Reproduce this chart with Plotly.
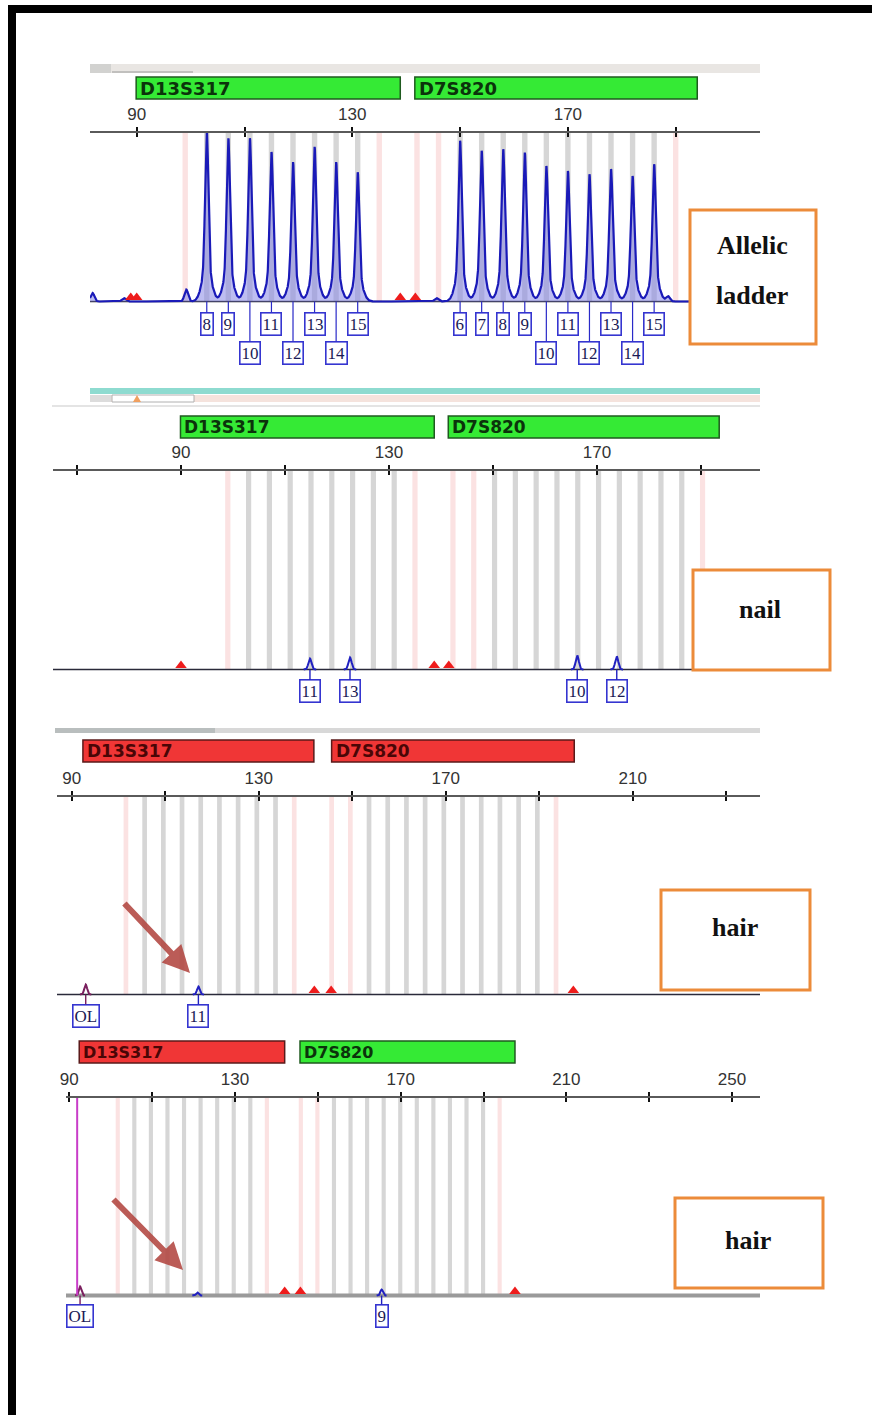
import numpy as np
import plotly.graph_objects as go

W, H = 872, 1415

# ------------------------------------------------------------------ data
LOCI = ["D13S317", "D7S820"]
D13_ALLELES = [8, 9, 10, 11, 12, 13, 14, 15]
D13_BP = [103.0, 107.0, 111.0, 115.0, 119.0, 123.0, 127.0, 131.0]
D13_LADDER_H = [1.00, 0.96, 0.96, 0.88, 0.82, 0.91, 0.82, 0.76]
D7_ALLELES = [6, 7, 8, 9, 10, 11, 12, 13, 14, 15]
D7_BP = [150.0, 154.0, 158.0, 162.0, 166.0, 170.0, 174.0, 178.0, 182.0, 186.0]
D7_LADDER_H = [0.945, 0.886, 0.896, 0.876, 0.797, 0.768, 0.748, 0.778, 0.738, 0.807]
D13_VIRTUAL_BP = [99.0, 135.0]
D7_VIRTUAL_BP = [142.0, 146.0, 190.0]
LADDER_NOISE_BP = [81.8, 87.6, 99.2, 145.6, 188.6]
LADDER_NOISE_H = [0.05, 0.02, 0.07, 0.02, 0.03]

PANEL_NAMES = [["Allelic", "ladder"], ["nail"], ["hair"], ["hair"]]
LOCUS_START = {1: [89.9, 141.6], 2: [89.9, 141.4], 3: [92.4, 145.6], 4: [92.4, 145.7]}
LOCUS_END = {1: [138.9, 194.0], 2: [138.7, 193.5], 3: [141.8, 197.5], 4: [142.0, 197.6]}
LOCUS_PASS = {1: [True, True], 2: [True, True], 3: [False, False], 4: [False, True]}
BIN_SHIFT = {1: [0.0, 0.0], 2: [0.0, 0.3], 3: [2.6, 3.6], 4: [2.7, 3.9]}
EDGE_MARK_BP = {1: [88.9, 90.0, 138.9, 141.7], 2: [90.0, 138.7, 141.5],
                3: [141.9, 145.5, 197.3], 4: [142.0, 145.8, 197.6]}

SAMPLE_PEAK_BP = {2: [114.8, 122.5, 166.2, 173.8], 3: [93.0, 117.1], 4: [92.6, 120.9, 165.4]}
SAMPLE_PEAK_H = {2: [0.055, 0.06, 0.07, 0.065], 3: [0.05, 0.04], 4: [0.045, 0.015, 0.03]}
SAMPLE_PEAK_LABEL = {2: ["11", "13", "10", "12"], 3: ["OL", "11"], 4: ["OL", "", "9"]}
SAMPLE_PEAK_DYE = {2: ["blue"] * 4, 3: ["purple", "blue"], 4: ["purple", "blue", "blue"]}
OFFSCALE_BP = 91.9  # panel 4 vertical marker
TICK_VALUES = list(range(50, 270, 20))

# ------------------------------------------------------------------ layout geometry (pixels)
GEOM = {
    1: dict(top=55, bottom=372, axis=131.5, base=301.5, left=90, right=760, t90=136.7, ppb=5.39),
    2: dict(top=380, bottom=712, axis=469.5, base=669.5, left=53, right=760, t90=181.0, ppb=5.2),
    3: dict(top=722, bottom=1032, axis=795.5, base=994.5, left=57, right=760, t90=71.7, ppb=4.675),
    4: dict(top=1034, bottom=1340, axis=1096.5, base=1295.5, left=66, right=760, t90=69.3, ppb=4.142),
}
LOCUS_BAR_PX = {1: (77, 99), 2: (416, 438), 3: (740, 762), 4: (1041, 1063)}
LOCUS_FONT = {1: 18, 2: 17, 3: 17, 4: 16}
LABEL_AY = {1: (22, 51), 2: (21.5, 21.5), 3: (21, 21), 4: (20, 20)}
NAME_BOX = {1: (690, 210, 816, 344), 2: (693, 570, 830, 670), 3: (661, 890, 810, 990), 4: (675, 1198, 823, 1288)}
NAME_TEXT = {1: [(752, 246), (752, 295)], 2: [(760, 610)], 3: [(735, 927)], 4: [(748, 1240)]}
ARROWS = {3: (190, 973, 123, 902), 4: (183, 1270, 112, 1198)}

DYE_COLOR = {"blue": "#2020c0", "purple": "#7a1f5e"}


def rng(p):
    g = GEOM[p]
    return [90 + (g["left"] - g["t90"]) / g["ppb"], 90 + (g["right"] - g["t90"]) / g["ppb"]]


def yv(p, ypx):
    g = GEOM[p]
    return (g["base"] - ypx) / (g["base"] - g["axis"])


def bpx(p, xpx):
    g = GEOM[p]
    return 90 + (xpx - g["t90"]) / g["ppb"]


def refs(p):
    return ("x" if p == 1 else f"x{p}", "y" if p == 1 else f"y{p}")


def px(x):
    return x / W


def py(y):
    return 1 - y / H


fig = go.Figure()
layout = dict(width=W, height=H, margin=dict(l=0, r=0, t=0, b=0, pad=0, autoexpand=False),
              paper_bgcolor="white", plot_bgcolor="rgba(0,0,0,0)",
              showlegend=False, barmode="overlay")
shapes, annos = [], []

LABEL_FONT = dict(family="Liberation Serif", size=17, color="#1a1a55")

for p in range(1, 5):
    g = GEOM[p]
    r = rng(p)
    xr, yr = refs(p)
    ticks = [t for t in TICK_VALUES if r[0] <= t <= r[1]]
    ttext = [str(t) if (t - 90) % 40 == 0 else "" for t in ticks]
    pos = py(g["axis"])
    dom = [px(g["left"]), px(g["right"])]
    xkey = "xaxis" if p == 1 else f"xaxis{p}"
    ykey = "yaxis" if p == 1 else f"yaxis{p}"
    layout[xkey] = dict(domain=dom, range=r, anchor="free", position=pos, side="top",
                        showline=True, linecolor="#5a5a5a", linewidth=2,
                        ticks="outside", ticklen=4, tickwidth=1.5, tickcolor="#111",
                        tickvals=ticks, ticktext=ttext, automargin=False,
                        tickfont=dict(family="Liberation Sans", size=17, color="#333"),
                        showgrid=False, zeroline=False, fixedrange=True)
    layout[f"xaxis{p + 4}"] = dict(range=r, anchor="free", position=pos, side="top",
                                   overlaying=xr, showline=False, ticks="inside", ticklen=4,
                                   tickwidth=1.5, tickcolor="#111", tickvals=ticks,
                                   showticklabels=False, showgrid=False, zeroline=False,
                                   automargin=False, fixedrange=True)
    layout[ykey] = dict(domain=[py(g["bottom"]), py(g["top"])],
                        range=[yv(p, g["bottom"]), yv(p, g["top"])],
                        anchor=xr, visible=False, automargin=False, fixedrange=True)
    fig.add_trace(go.Scatter(x=[r[0]], y=[0], xaxis=f"x{p + 4}", yaxis=yr, mode="markers",
                             marker=dict(opacity=0), hoverinfo="skip"))

    # bins
    s13, s7 = BIN_SHIFT[p]
    pink_x = [b + s13 for b in D13_VIRTUAL_BP] + [b + s7 for b in D7_VIRTUAL_BP]
    gray_x = [b + s13 for b in D13_BP] + [b + s7 for b in D7_BP]
    fig.add_trace(go.Bar(x=pink_x, y=[1] * len(pink_x), base=0, width=1.0, xaxis=xr, yaxis=yr,
                         marker=dict(color="#fbe2e2", line_width=0), hoverinfo="skip"))
    fig.add_trace(go.Bar(x=gray_x, y=[1] * len(gray_x), base=0, width=1.0, xaxis=xr, yaxis=yr,
                         marker=dict(color="#d6d6d6", line_width=0), hoverinfo="skip"))

    # locus bars
    y0b, y1b = LOCUS_BAR_PX[p]
    for i, name in enumerate(LOCI):
        ok = LOCUS_PASS[p][i]
        shapes.append(dict(type="rect", xref=xr, yref=yr, x0=LOCUS_START[p][i], x1=LOCUS_END[p][i],
                           y0=yv(p, y1b), y1=yv(p, y0b),
                           fillcolor="#35ea35" if ok else "#f03636",
                           line=dict(color="#1f5a1f" if ok else "#5a1a1a", width=1.5)))
        annos.append(dict(xref=xr, yref=yr, x=LOCUS_START[p][i], y=yv(p, (y0b + y1b) / 2),
                          xanchor="left", yanchor="middle", xshift=2, showarrow=False,
                          text=f"<b>{name}</b>",
                          font=dict(family="DejaVu Sans", size=LOCUS_FONT[p],
                                    color="#0b330b" if ok else "#4a0606")))

    # baseline
    base_style = dict(color="#9a9a9a", width=4) if p == 4 else dict(color="#2a2a3a", width=1.6)
    fig.add_trace(go.Scatter(x=r, y=[0, 0], xaxis=xr, yaxis=yr, mode="lines",
                             line=base_style, hoverinfo="skip"))

# ---------------- ladder peaks (panel 1)
r1 = rng(1)
xs = np.linspace(r1[0], r1[1], 6000)
ys = np.zeros_like(xs)
for mu, h in zip(D13_BP + D7_BP, D13_LADDER_H + D7_LADDER_H):
    ys += (0.80 * h * np.exp(-0.5 * ((xs - mu) / 0.30) ** 2)
           + 0.20 * h * np.exp(-0.5 * ((xs - mu) / 0.85) ** 2))
for mu, h in zip(LADDER_NOISE_BP, LADDER_NOISE_H):
    ys += h * np.exp(-0.5 * ((xs - mu) / 0.35) ** 2)
ys = np.minimum(ys, 1.0)
fig.add_trace(go.Scatter(x=xs, y=ys, xaxis="x", yaxis="y", mode="lines", fill="tozeroy",
                         fillcolor="rgba(135,135,230,0.55)",
                         line=dict(color="#1a1ab8", width=2.2), hoverinfo="skip"))

for alleles, bps in ((D13_ALLELES, D13_BP), (D7_ALLELES, D7_BP)):
    for a, b in zip(alleles, bps):
        ay = LABEL_AY[1][1] if a in (10, 12, 14) else LABEL_AY[1][0]
        annos.append(dict(xref="x", yref="y", x=b, y=0, ax=0, ay=ay, text=str(a),
                          showarrow=True, arrowhead=0, arrowwidth=1.2, arrowcolor="#2a2ac8",
                          font=LABEL_FONT, bordercolor="#3535d0", borderwidth=1.6,
                          borderpad=1, bgcolor="white"))

# ---------------- sample peaks (panels 2-4)
for p in (2, 3, 4):
    xr, yr = refs(p)
    for b, h, lab, dye in zip(SAMPLE_PEAK_BP[p], SAMPLE_PEAK_H[p], SAMPLE_PEAK_LABEL[p], SAMPLE_PEAK_DYE[p]):
        lx = np.linspace(b - 1.2, b + 1.2, 60)
        ly = h * np.exp(-0.5 * ((lx - b) / 0.3) ** 2)
        fig.add_trace(go.Scatter(x=lx, y=ly, xaxis=xr, yaxis=yr, mode="lines",
                                 line=dict(color=DYE_COLOR[dye], width=2), hoverinfo="skip"))
        if lab:
            annos.append(dict(xref=xr, yref=yr, x=b, y=0, ax=0, ay=LABEL_AY[p][0], text=lab,
                              showarrow=True, arrowhead=0, arrowwidth=1.4, arrowcolor=DYE_COLOR[dye],
                              font=LABEL_FONT, bordercolor="#3535d0", borderwidth=1.6,
                              borderpad=1, bgcolor="white"))

# off-scale marker line in panel 4
fig.add_trace(go.Scatter(x=[OFFSCALE_BP, OFFSCALE_BP], y=[0, 1], xaxis="x4", yaxis="y4", mode="lines",
                         line=dict(color="#c83cc8", width=2), hoverinfo="skip"))

# locus edge markers
for p in range(1, 5):
    xr, yr = refs(p)
    fig.add_trace(go.Scatter(x=EDGE_MARK_BP[p], y=[yv(p, GEOM[p]["base"] - 4)] * len(EDGE_MARK_BP[p]),
                             xaxis=xr, yaxis=yr, mode="markers",
                             marker=dict(symbol="triangle-up", size=10, color="#ee1c1c"),
                             hoverinfo="skip"))

# arrows
for p, (tx, ty, sx, sy) in ARROWS.items():
    xr, yr = refs(p)
    annos.append(dict(xref=xr, yref=yr, x=bpx(p, tx), y=yv(p, ty), ax=sx - tx, ay=sy - ty,
                      text="", showarrow=True, arrowhead=2, arrowsize=0.9, arrowwidth=6,
                      arrowcolor="rgba(178,70,64,0.88)"))


# ---------------- decorations (paper coords)
def prect(x0, y0, x1, y1, fill, line=None, lw=0, layer="below"):
    shapes.append(dict(type="rect", xref="paper", yref="paper", x0=px(x0), x1=px(x1), y0=py(y1), y1=py(y0),
                       fillcolor=fill, layer=layer, line=dict(width=lw, color=line or fill)))


# panel 1 top strip
prect(90, 64, 760, 73, "#e9e6e3")
prect(90, 64, 111, 73, "#d2d2d0")
prect(112, 71.5, 193, 72.5, "#9a9a9a")
# panel 2 top strips
prect(90, 388, 760, 394, "#8edbd0")
prect(90, 395, 760, 402, "#f5e3dd")
prect(90, 395, 111, 402, "#dcdcdc")
prect(112, 395, 194, 402, "white", line="#b0b0b0", lw=1)
shapes.append(dict(type="path", xref="paper", yref="paper",
                   path=f"M {px(133)} {py(402)} L {px(141)} {py(402)} L {px(137)} {py(395)} Z",
                   fillcolor="#f0a060", line=dict(width=0)))
prect(52, 405, 760, 407, "#e4e4e4")
# panel 3 top strip
prect(55, 728, 760, 733, "#d8d8d8")
prect(55, 728, 215, 733, "#b9bebe")

# name boxes
for p in range(1, 5):
    x0, y0, x1, y1 = NAME_BOX[p]
    prect(x0, y0, x1, y1, "white", line="#ec8b3a", lw=3, layer="above")
    for (tx, ty), t in zip(NAME_TEXT[p], PANEL_NAMES[p - 1]):
        annos.append(dict(xref="paper", yref="paper", x=px(tx), y=py(ty), showarrow=False,
                          text=f"<b>{t}</b>", xanchor="center", yanchor="middle",
                          font=dict(family="Liberation Serif", size=26, color="#111")))

# black frame
prect(8, 5, 16, H, "black", layer="above")
prect(8, 5, W, 13, "black", layer="above")

layout["shapes"] = shapes
layout["annotations"] = annos
fig.update_layout(**layout)

fig.write_html("out.html", config={"displayModeBar": False},
               post_script="document.body.style.margin='0';document.body.style.overflow='hidden';")
